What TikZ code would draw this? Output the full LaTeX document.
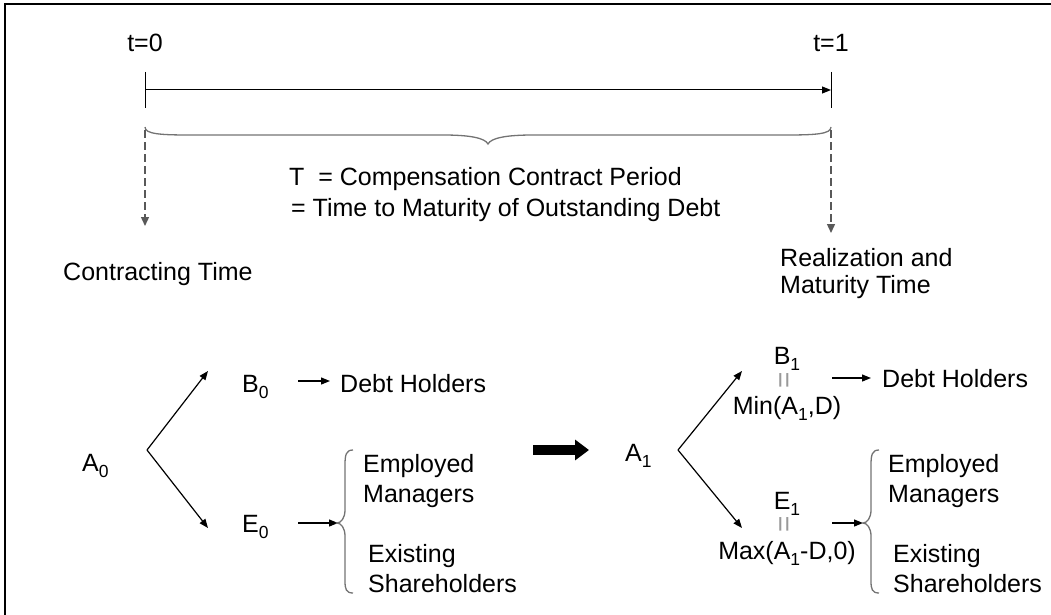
\documentclass[tikz,border=0pt]{standalone}
\usepackage{fontspec}
\setmainfont{Liberation Sans}
\usetikzlibrary{arrows.meta}
\newcommand\sbs[1]{\raisebox{-0.24em}{\fontsize{17.5}{17.5}\selectfont #1}}
\begin{document}
\begin{tikzpicture}[x=1pt,y=-1pt,
  txt/.style={inner sep=0pt, font=\fontsize{25}{27}\selectfont},
  arr/.style={line width=1.2pt, -{Triangle[length=9pt,width=7pt]}},
  darr/.style={line width=1.4pt, draw=black!65, dash pattern=on 8pt off 4pt, -{Triangle[length=9pt,width=8pt]}},
  brc/.style={line width=1.3pt, draw=black!55},
  eqs/.style={inner sep=0pt, text=black!40, font=\fontsize{28}{28}\selectfont},
  frame/.style={line width=2.5pt}
]
\useasboundingbox (0,0) rectangle (1051,615);
% frame
\draw[frame] (5,616) -- (5,4) -- (1052,4);
% timeline
\node[txt, anchor=base] (t0) at (145,52) {t=0};
\node[txt, anchor=base] (t1) at (831,52) {t=1};
\coordinate (s0) at (145,90);
\coordinate (s1) at (831,90);
\draw[line width=1pt] (145,72) -- (145,108);
\draw[line width=1pt] (831,72) -- (831,108);
\draw[line width=1pt, -{Triangle[length=9pt,width=7pt]}] (s0) -- (s1);
% top brace
\draw[brc] (145,127) .. controls (145,134) and (160,135) .. (190,135) -- (443,135)
  .. controls (470,135) and (485,138) .. (488,144)
  .. controls (491,138) and (506,135) .. (533,135) -- (786,135)
  .. controls (816,135) and (831,134) .. (831,127);
% texts
\node[txt, anchor=base west] (T1) at (289,185) {T\ \ = Compensation Contract Period};
\node[txt, anchor=base west] (T2) at (291,216) {= Time to Maturity of Outstanding Debt};
% dashed arrows
\node[txt, anchor=base west] (ct) at (63,280) {Contracting Time};
\node[txt, anchor=base west] (rt) at (780,266) {Realization and};
\node[txt, anchor=base west] (rt2) at (780,293) {Maturity Time};
\coordinate (d0) at (145,130);
\coordinate (d1) at (831,130);
\coordinate (d0e) at (145,226);
\coordinate (d1e) at (831,233);
\draw[darr] (d0) -- (d0e);
\draw[darr] (d1) -- (d1e);
% left tree
\node[txt, anchor=base west] (A0) at (82,471) {A\sbs{0}};
\node[txt, anchor=base west] (B0) at (242,392) {B\sbs{0}};
\node[txt, anchor=base west] (E0) at (242,532) {E\sbs{0}};
\node[txt, anchor=base west] (dh0) at (340,392) {Debt Holders};
\node[txt, anchor=base west] (em0) at (363,472) {Employed};
\node[txt, anchor=base west] (mg0) at (363,502) {Managers};
\node[txt, anchor=base west] (ex0) at (368,562) {Existing};
\node[txt, anchor=base west] (sh0) at (368,592) {Shareholders};
\coordinate (v0) at (147,450);
\coordinate (v0u) at (208,371);
\coordinate (v0d) at (208,528);
\draw[arr] (v0) -- (v0u);
\draw[arr] (v0) -- (v0d);
\coordinate (b0a) at (298,381);
\coordinate (b0b) at (330,381);
\draw[arr] (b0a) -- (b0b);
\coordinate (e0a) at (298,523);
\coordinate (e0b) at (338,523);
\draw[arr] (e0a) -- (e0b);
\draw[brc] (353,450) .. controls (346,450) and (345,455) .. (345,465) -- (345,510)
  .. controls (345,518) and (341,523) .. (337,523)
  .. controls (341,523) and (345,528) .. (345,536) -- (345,581)
  .. controls (345,589) and (346,593) .. (353,593);
% big arrow
\coordinate (ba) at (533,450);
\coordinate (bb) at (589,450);
\draw[line width=10pt, -{Triangle[length=14pt,width=20pt]}] (ba) -- (bb);
% right tree
\node[txt, anchor=base west] (A1) at (625,461) {A\sbs{1}};
\node[txt, anchor=base] (B1) at (787,364) {B\sbs{1}};
\node[eqs] (q1) at (787,380) {\rotatebox{90}{=}};
\node[txt, anchor=base] (mn) at (787,414) {Min(A\sbs{1},D)};
\node[txt, anchor=base west] (dh1) at (882,387) {Debt Holders};
\node[txt, anchor=base] (E1) at (787,509) {E\sbs{1}};
\node[eqs] (q2) at (787,524) {\rotatebox{90}{=}};
\node[txt, anchor=base] (mx) at (787,559) {Max(A\sbs{1}-D,0)};
\node[txt, anchor=base west] (em1) at (888,472) {Employed};
\node[txt, anchor=base west] (mg1) at (888,502) {Managers};
\node[txt, anchor=base west] (ex1) at (893,562) {Existing};
\node[txt, anchor=base west] (sh1) at (893,592) {Shareholders};
\coordinate (v1) at (678,450);
\coordinate (v1u) at (742,371);
\coordinate (v1d) at (742,528);
\draw[arr] (v1) -- (v1u);
\draw[arr] (v1) -- (v1d);
\coordinate (b1a) at (832,378);
\coordinate (b1b) at (871,378);
\draw[arr] (b1a) -- (b1b);
\coordinate (e1a) at (832,523);
\coordinate (e1b) at (863,523);
\draw[arr] (e1a) -- (e1b);
\draw[brc] (879,450) .. controls (872,450) and (871,455) .. (871,465) -- (871,510)
  .. controls (871,518) and (867,523) .. (863,523)
  .. controls (867,523) and (871,528) .. (871,536) -- (871,581)
  .. controls (871,589) and (872,593) .. (879,593);
\end{tikzpicture}
\end{document}
